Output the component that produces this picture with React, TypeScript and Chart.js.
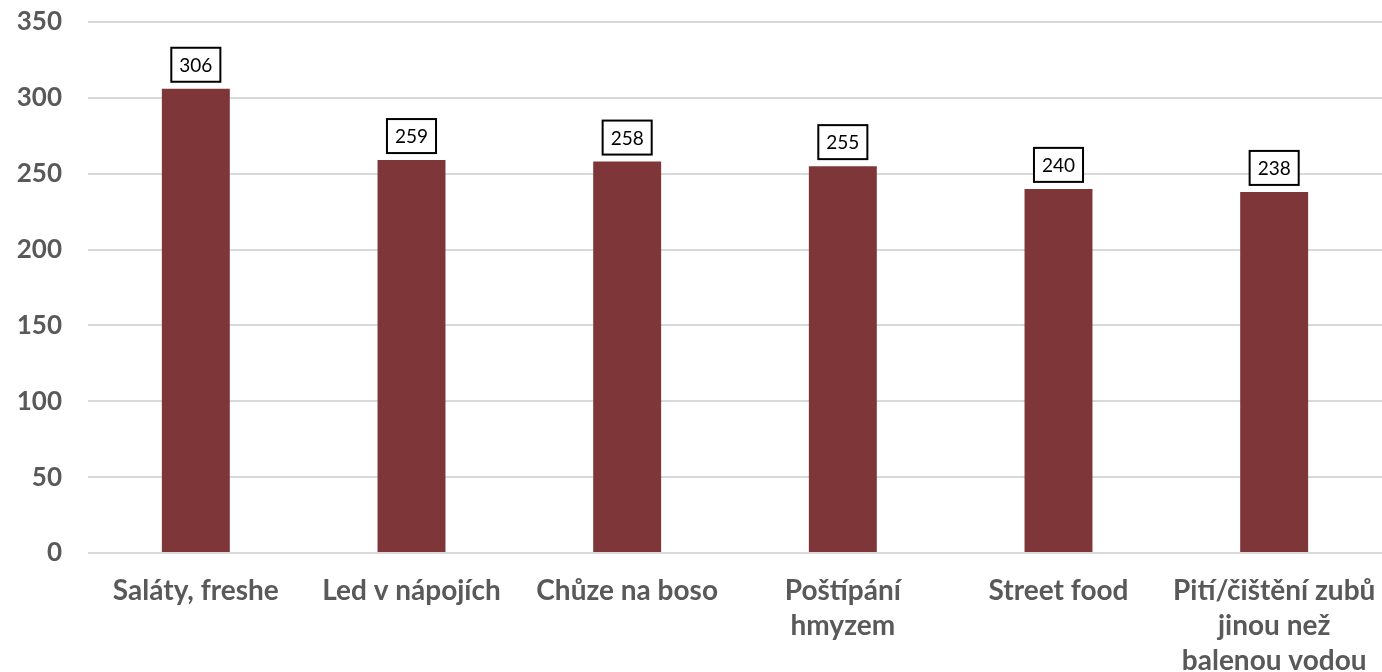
import React, { useEffect, useRef } from "react";
import { Chart, registerables } from "chart.js";

Chart.register(...registerables);

const categories: (string | string[])[] = [
  "Saláty, freshe",
  "Led v nápojích",
  "Chůze na boso",
  ["Poštípání", "hmyzem"],
  "Street food",
  ["Pití/čištění zubů", "jinou než", "balenou vodou"],
];
const values: number[] = [306, 259, 258, 255, 240, 238];
const yTicks: number[] = [0, 50, 100, 150, 200, 250, 300, 350];

const BAR_COLOR = "#7f3638";
const TEXT_COLOR = "#595959";
const FONT = "Lato, 'Open Sans', sans-serif";

const boxLabels = {
  id: "boxLabels",
  afterDatasetsDraw(chart: any) {
    const ctx = chart.ctx;
    const meta = chart.getDatasetMeta(0);
    ctx.save();
    ctx.font = `19px ${FONT}`;
    ctx.textAlign = "center";
    ctx.textBaseline = "middle";
    meta.data.forEach((el: any, i: number) => {
      const txt = String(chart.data.datasets[0].data[i]);
      const w = ctx.measureText(txt).width + 16;
      const h = 34;
      const x = el.x;
      const bottom = el.y - 7;
      ctx.fillStyle = "#ffffff";
      ctx.fillRect(x - w / 2, bottom - h, w, h);
      ctx.lineWidth = 2;
      ctx.strokeStyle = "#000000";
      ctx.strokeRect(x - w / 2, bottom - h, w, h);
      ctx.fillStyle = "#000000";
      ctx.fillText(txt, x, bottom - h / 2 + 1);
    });
    ctx.restore();
  },
};

export default function App() {
  const ref = useRef<HTMLCanvasElement | null>(null);
  useEffect(() => {
    if (!ref.current) return;
    const chart = new Chart(ref.current, {
      type: "bar",
      data: {
        labels: categories,
        datasets: [
          {
            data: values,
            backgroundColor: BAR_COLOR,
            borderWidth: 0,
            barPercentage: 0.63,
            categoryPercentage: 0.5,
          },
        ],
      },
      options: {
        animation: false,
        responsive: true,
        maintainAspectRatio: false,
        layout: { padding: { top: 22, right: 0, left: 0, bottom: 0 } },
        plugins: { legend: { display: false }, tooltip: { enabled: false } },
        scales: {
          x: {
            grid: { display: false },
            border: { display: false },
            ticks: {
              color: TEXT_COLOR,
              font: { family: FONT, size: 28, weight: "bold", lineHeight: 1.25 },
              padding: 12,
              maxRotation: 0,
              autoSkip: false,
            },
            afterFit(scale: any) {
              scale.height = 119;
              scale.paddingLeft = 0;
              scale.paddingRight = 0;
            },
          },
          y: {
            min: 0,
            max: 350,
            afterBuildTicks(scale: any) {
              scale.ticks = yTicks.map((v) => ({ value: v }));
            },
            grid: { color: "#d9d9d9", lineWidth: 2, drawTicks: false },
            border: { display: false },
            ticks: {
              color: TEXT_COLOR,
              font: { family: FONT, size: 26, weight: "bold" },
              padding: 26,
            },
            afterFit(scale: any) {
              scale.width = 88;
              scale.paddingTop = 0;
              scale.paddingBottom = 0;
            },
          },
        },
      },
      plugins: [boxLabels],
    });
    return () => chart.destroy();
  }, []);
  return (
    <div style={{ position: "fixed", left: 0, top: 0, width: 1382, height: 672, background: "#fff" }}>
      <canvas ref={ref} />
    </div>
  );
}
